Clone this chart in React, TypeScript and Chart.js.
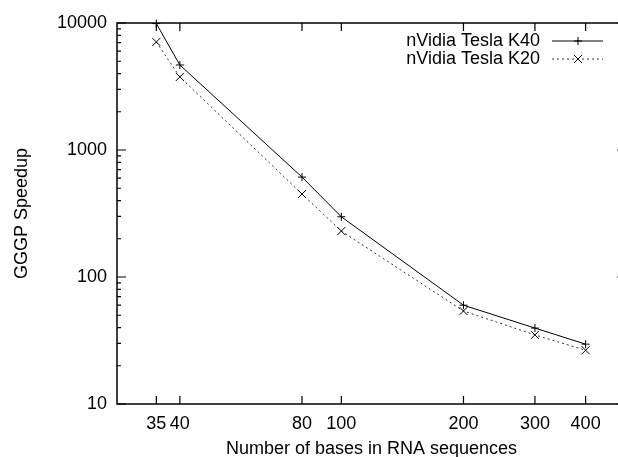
import React, { useEffect, useRef } from 'react';
import { Chart, registerables } from 'chart.js';

Chart.register(...registerables);

const bases = [35, 40, 80, 100, 200, 300, 400];
const k40Speedup = [9900, 4670, 612, 298, 60, 39.6, 29.6];
const k20Speedup = [7090, 3760, 450, 230, 54, 35, 26.5];
const xTickValues = [35, 40, 80, 100, 200, 300, 400];
const yTickValues = [10, 100, 1000, 10000];
const seriesLabels = ['nVidia Tesla K40', 'nVidia Tesla K20'];
const xTitle = 'Number of bases in RNA sequences';
const yTitle = 'GGGP Speedup';

const FONT = 'Liberation Sans, Arial, Helvetica, sans-serif';
const CW = 640;
const CH = 457;
const RIGHT = 626;

const framePlugin = {
  id: 'gnuFrame',
  afterDraw(chart: any) {
    const { ctx, chartArea } = chart;
    const { left, right, top, bottom } = chartArea;
    const xs = chart.scales.x;
    const ys = chart.scales.y;
    ctx.save();
    ctx.strokeStyle = '#000';
    ctx.lineWidth = 1.5;
    ctx.setLineDash([]);
    ctx.beginPath();
    ctx.moveTo(left, top);
    ctx.lineTo(right, top);
    ctx.lineTo(right, bottom);
    ctx.lineTo(left, bottom);
    ctx.closePath();
    ctx.stroke();
    // ticks (inward, mirrored)
    ctx.lineWidth = 1.2;
    ctx.beginPath();
    for (let d = 0; d < yTickValues.length; d++) {
      const v = yTickValues[d];
      const py = ys.getPixelForValue(v);
      ctx.moveTo(left, py); ctx.lineTo(left + 9, py);
      ctx.moveTo(right, py); ctx.lineTo(right - 9, py);
      if (d < yTickValues.length - 1) {
        for (let k = 2; k <= 9; k++) {
          const pm = ys.getPixelForValue(v * k);
          ctx.moveTo(left, pm); ctx.lineTo(left + 4, pm);
          ctx.moveTo(right, pm); ctx.lineTo(right - 4, pm);
        }
      }
    }
    for (const v of xTickValues) {
      const px = xs.getPixelForValue(v);
      ctx.moveTo(px, bottom); ctx.lineTo(px, bottom - 8);
      ctx.moveTo(px, top); ctx.lineTo(px, top + 8);
    }
    ctx.stroke();

    // legend (gnuplot style: right-aligned text, sample on the right)
    ctx.font = `18px ${FONT}`;
    ctx.fillStyle = '#000';
    ctx.textAlign = 'right';
    ctx.textBaseline = 'middle';
    const rows = [41, 59];
    chart.data.datasets.forEach((ds: any, i: number) => {
      const y = rows[i];
      ctx.fillText(ds.label, 540, y);
      ctx.strokeStyle = ds.borderColor;
      ctx.lineWidth = ds.borderWidth;
      ctx.setLineDash(ds.borderDash || []);
      ctx.beginPath();
      ctx.moveTo(552, y);
      ctx.lineTo(603, y);
      ctx.stroke();
      ctx.setLineDash([]);
      ctx.strokeStyle = '#000';
      const cx = 578;
      ctx.beginPath();
      if (ds.pointStyle === 'cross') {
        const r = ds.pointRadius;
        ctx.moveTo(cx - r, y); ctx.lineTo(cx + r, y);
        ctx.moveTo(cx, y - r); ctx.lineTo(cx, y + r);
      } else {
        const r = ds.pointRadius * Math.SQRT1_2;
        ctx.moveTo(cx - r, y - r); ctx.lineTo(cx + r, y + r);
        ctx.moveTo(cx + r, y - r); ctx.lineTo(cx - r, y + r);
      }
      ctx.stroke();
    });
    ctx.restore();
  },
};

export default function App() {
  const ref = useRef<HTMLCanvasElement | null>(null);

  useEffect(() => {
    if (!ref.current) return;
    const chart = new Chart(ref.current, {
      type: 'line',
      data: {
        datasets: [
          {
            label: seriesLabels[0],
            data: bases.map((b, i) => ({ x: b, y: k40Speedup[i] })),
            borderColor: '#000',
            borderWidth: 1,
            pointStyle: 'cross',
            pointRadius: 4,
            pointBorderWidth: 1,
            pointBorderColor: '#000',
            fill: false,
            tension: 0,
            clip: false as any,
          },
          {
            label: seriesLabels[1],
            data: bases.map((b, i) => ({ x: b, y: k20Speedup[i] })),
            borderColor: '#333',
            borderWidth: 1,
            borderDash: [2, 3],
            pointStyle: 'crossRot',
            pointRadius: 5.7,
            pointBorderWidth: 1,
            pointBorderColor: '#000',
            fill: false,
            tension: 0,
            clip: false as any,
          },
        ],
      },
      options: {
        animation: false,
        responsive: false,
        devicePixelRatio: 1,
        layout: { padding: { left: 0, top: 23, right: CW - RIGHT, bottom: 0 } },
        plugins: { legend: { display: false }, tooltip: { enabled: false } },
        scales: {
          x: {
            type: 'logarithmic',
            position: 'bottom',
            min: 28,
            max: 503,
            afterBuildTicks: (s: any) => {
              s.ticks = xTickValues.map((v) => ({ value: v }));
            },
            afterFit: (s: any) => {
              s.height = CH - 404;
            },
            grid: { display: false, drawTicks: false },
            border: { display: false },
            ticks: {
              autoSkip: false,
              maxRotation: 0,
              padding: 9,
              color: '#000',
              font: { family: FONT, size: 18 },
              callback: (v: any) => String(v),
            },
            title: {
              display: true,
              text: xTitle,
              color: '#000',
              font: { family: FONT, size: 18 },
              padding: { top: 0, bottom: -3 },
            },
          },
          y: {
            type: 'logarithmic',
            min: 10,
            max: 10000,
            afterBuildTicks: (s: any) => {
              s.ticks = yTickValues.map((v) => ({ value: v }));
            },
            afterFit: (s: any) => {
              s.width = 117;
            },
            grid: { display: false, drawTicks: false },
            border: { display: false },
            ticks: {
              autoSkip: false,
              padding: 10,
              color: '#000',
              font: { family: FONT, size: 18 },
              callback: (v: any) => String(v),
            },
            title: {
              display: true,
              text: yTitle,
              color: '#000',
              font: { family: FONT, size: 18 },
              padding: { top: 11, bottom: 0 },
            },
          },
        },
      },
      plugins: [framePlugin],
    } as any);
    return () => chart.destroy();
  }, []);

  return (
    <div
      style={{
        position: 'fixed',
        left: 0,
        top: 0,
        width: 618,
        height: 457,
        overflow: 'hidden',
        background: '#fff',
      }}
    >
      <canvas ref={ref} width={CW} height={CH} style={{ width: CW, height: CH, display: 'block' }} />
    </div>
  );
}
